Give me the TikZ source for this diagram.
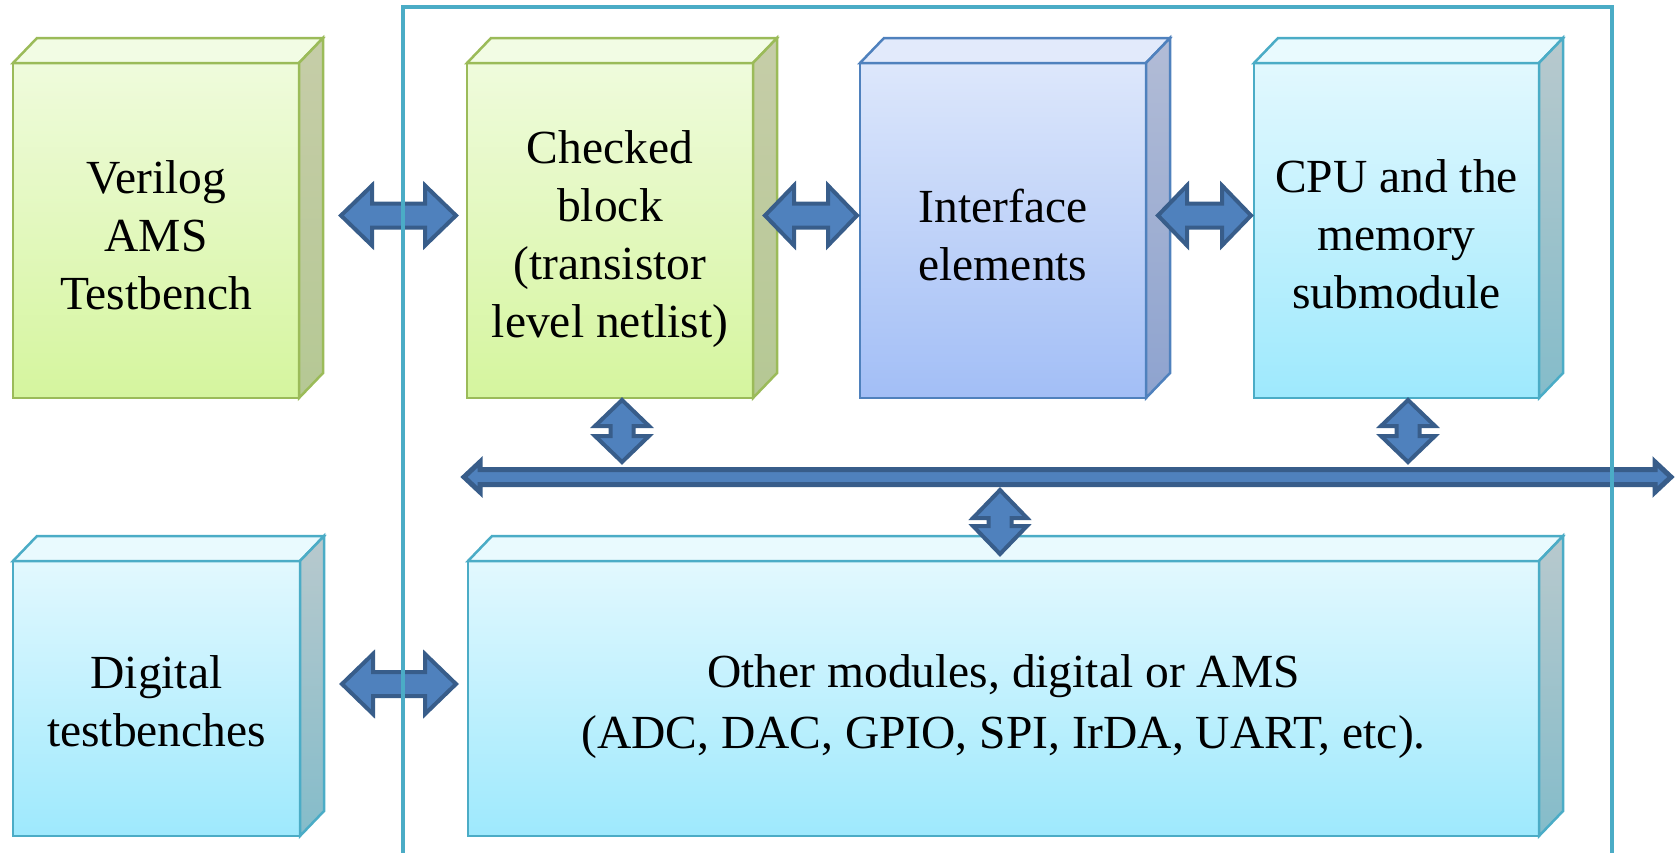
\documentclass[tikz,border=0pt]{standalone}
\usepackage{fontspec}
\setmainfont{Liberation Serif}
\usetikzlibrary{calc}

% colour scheme
\definecolor{grnTop}{HTML}{EFFBDC}
\definecolor{grnBot}{HTML}{D5F59E}
\definecolor{grnEdge}{HTML}{9BBB59}
\definecolor{grnLid}{HTML}{F2FCE4}
\definecolor{grnSideA}{HTML}{C6CDA8}
\definecolor{grnSideB}{HTML}{B5C894}
\definecolor{bluTop}{HTML}{DDE7FB}
\definecolor{bluBot}{HTML}{A2BEF6}
\definecolor{bluEdge}{HTML}{4F81BD}
\definecolor{bluLid}{HTML}{E2EAFB}
\definecolor{bluSideA}{HTML}{B2BCD6}
\definecolor{bluSideB}{HTML}{8EA3CF}
\definecolor{cynTop}{HTML}{E2F8FE}
\definecolor{cynBot}{HTML}{9EE9FD}
\definecolor{cynEdge}{HTML}{4BACC6}
\definecolor{cynLid}{HTML}{E9FAFE}
\definecolor{cynSideA}{HTML}{B8C9CD}
\definecolor{cynSideB}{HTML}{84BCCA}
\definecolor{arrFill}{HTML}{4F81BD}
\definecolor{arrEdge}{HTML}{385D8A}

% draws the lid and the right-hand side of a block node
% #1 node, #2 edge colour, #3 lid colour, #4/#5 side shading
\newcommand\blockdepth[5]{%
  \draw[cubeedge, draw=#2, fill=#3] (#1.north west) -- ++(24,-25)
    -- ([shift={(24,-25)}]#1.north east) -- (#1.north east) -- cycle;
  \draw[cubeedge, draw=#2, top color=#4, bottom color=#5] (#1.north east) -- ++(24,-25)
    -- ([shift={(24,-25)}]#1.south east) -- (#1.south east) -- cycle;}

% block double arrow between two points
% #1,#2 end points, #3 half head width, #4 half shaft width, #5 head length, #6 style
\newcommand\fatlink[6]{%
  \draw[#6] (#1)
   -- ($(#1)!#5!(#2)!#3!90:(#2)$)
   -- ($(#1)!#5!(#2)!#4!90:(#2)$)
   -- ($(#2)!#5!(#1)!#4!-90:(#1)$)
   -- ($(#2)!#5!(#1)!#3!-90:(#1)$)
   -- (#2)
   -- ($(#2)!#5!(#1)!#3!90:(#1)$)
   -- ($(#2)!#5!(#1)!#4!90:(#1)$)
   -- ($(#1)!#5!(#2)!#4!-90:(#2)$)
   -- ($(#1)!#5!(#2)!#3!-90:(#2)$)
   -- cycle;}

\tikzset{
  block/.style={rectangle, inner sep=0pt, outer sep=0pt, line width=2.5pt},
  greenblock/.style={block, draw=grnEdge, top color=grnTop, bottom color=grnBot},
  blueblock/.style={block, draw=bluEdge, top color=bluTop, bottom color=bluBot},
  cyanblock/.style={block, draw=cynEdge, top color=cynTop, bottom color=cynBot},
  blocktext/.style={align=center, inner sep=0pt, text=black,
    font=\fontsize{47.5pt}{58pt}\selectfont},
  cubeedge/.style={line width=2.5pt, line join=miter},
  fatarrow/.style={fill=arrFill, draw=arrEdge, line width=4pt, line join=miter},
  busarrow/.style={fill=arrFill, draw=arrEdge, line width=5pt, line join=miter},
  socframe/.style={draw=cynEdge, line width=4.5pt, rectangle, inner sep=0pt, outer sep=0pt}
}

\begin{document}
\begin{tikzpicture}[x=1pt, y=-1pt]
\path[use as bounding box, clip] (0,0) rectangle (1679,852);

% blocks (front faces with their captions)
\node[greenblock, minimum width=286, minimum height=335,
  label={[blocktext, yshift=-4.5pt]center:{Verilog\\AMS\\Testbench}}] (verilog) at (156,230.5) {};
\node[greenblock, minimum width=286, minimum height=335,
  label={[blocktext, yshift=-8.5pt]center:{Checked\\block\\(transistor\\level netlist)}}] (checked) at (610,230.5) {};
\node[blueblock, minimum width=286, minimum height=335,
  label={[blocktext, yshift=-4.5pt]center:{Interface\\elements}}] (iface) at (1003,230.5) {};
\node[cyanblock, minimum width=285, minimum height=335,
  label={[blocktext, yshift=-3.5pt]center:{CPU and the\\memory\\submodule}}] (cpu) at (1396.5,230.5) {};
\node[cyanblock, minimum width=287, minimum height=275,
  label={[blocktext, yshift=-3pt]center:{Digital\\testbenches}}] (digital) at (156.5,698.5) {};
\node[cyanblock, minimum width=1071, minimum height=275,
  label={[blocktext, yshift=-8.5pt, font=\fontsize{47.5pt}{61pt}\selectfont]center:{Other modules, digital or AMS\\(ADC, DAC, GPIO, SPI, IrDA, UART, etc).}}] (other) at (1003.5,698.5) {};

\blockdepth{verilog}{grnEdge}{grnLid}{grnSideA}{grnSideB}
\blockdepth{checked}{grnEdge}{grnLid}{grnSideA}{grnSideB}
\blockdepth{iface}{bluEdge}{bluLid}{bluSideA}{bluSideB}
\blockdepth{cpu}{cynEdge}{cynLid}{cynSideA}{cynSideB}
\blockdepth{digital}{cynEdge}{cynLid}{cynSideA}{cynSideB}
\blockdepth{other}{cynEdge}{cynLid}{cynSideA}{cynSideB}

% arrow end points
\coordinate (h1a) at ([shift={(42,-15)}]verilog.east);
\coordinate (h1b) at ([shift={(-11,-15)}]checked.west);
\coordinate (h2a) at ([shift={(12,-15)}]checked.east);
\coordinate (h2b) at ([shift={(-3,-15)}]iface.west);
\coordinate (h3a) at ([shift={(12,-15)}]iface.east);
\coordinate (h3b) at ([shift={(-3,-15)}]cpu.west);
\coordinate (h4a) at ([shift={(42,-14.5)}]digital.east);
\coordinate (h4b) at ([shift={(-12,-14.5)}]other.west);
\coordinate (v1a) at ([shift={(12,2)}]checked.south);
\coordinate (v1b) at ([shift={(12,64)}]checked.south);
\coordinate (v2a) at ([shift={(11.5,2)}]cpu.south);
\coordinate (v2b) at ([shift={(11.5,64)}]cpu.south);
\coordinate (v3a) at ([shift={(-3.5,-71)}]other.north);
\coordinate (v3b) at ([shift={(-3.5,-7)}]other.north);
\coordinate (busL) at (464,477);
\coordinate (busR) at (1671,477);

% links between blocks
\fatlink{h1a}{h1b}{30pt}{12pt}{31pt}{fatarrow}
\fatlink{h2a}{h2b}{30pt}{12pt}{29pt}{fatarrow}
\fatlink{h3a}{h3b}{30pt}{12pt}{29pt}{fatarrow}
\fatlink{h4a}{h4b}{30pt}{12pt}{31pt}{fatarrow}
\fatlink{v1a}{v1b}{27pt}{11.5pt}{26pt}{fatarrow}
\fatlink{v2a}{v2b}{27pt}{11.5pt}{26pt}{fatarrow}
\fatlink{v3a}{v3b}{27pt}{11.5pt}{28pt}{fatarrow}

% system bus
\fatlink{busL}{busR}{15pt}{7.5pt}{16pt}{busarrow}

% chip boundary (open at the bottom edge)
\node[socframe, minimum width=1209, minimum height=900, anchor=north west] (soc) at (403,7) {};
\end{tikzpicture}
\end{document}
